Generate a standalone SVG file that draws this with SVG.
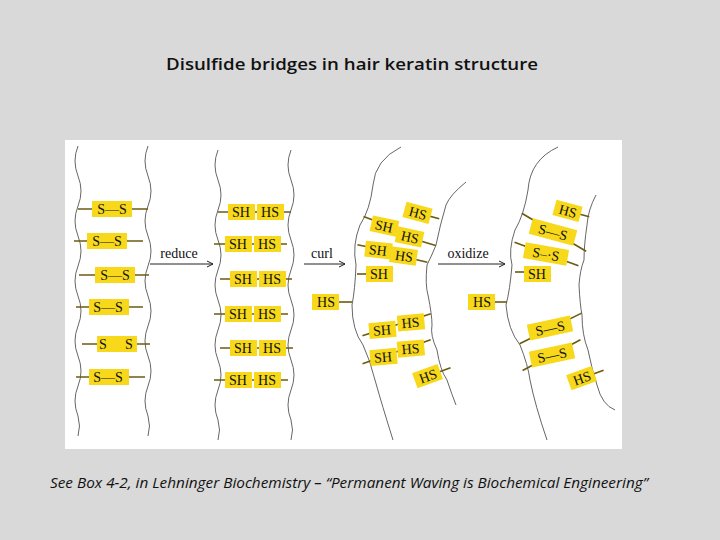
<svg xmlns="http://www.w3.org/2000/svg" width="720" height="540" viewBox="0 0 720 540">
<style>
.s{fill:none;stroke:#555;stroke-width:0.9}
.b{stroke:#6b5a10;stroke-width:1.6}
.y{fill:#f7d81a}
.t{font-family:"Liberation Serif",serif;font-size:14px;fill:#111;text-anchor:middle}
.a{stroke:#222;stroke-width:1;fill:none;marker-end:url(#m)}
</style>
<defs><marker id="m" markerWidth="8" markerHeight="8" refX="7" refY="4" orient="auto"><path d="M1,1 L7,4 L1,7" fill="none" stroke="#222"/></marker></defs>
<rect width="720" height="540" fill="#d9d9d9"/>
<text x="352" y="70" font-family="Open Sans,Liberation Sans,sans-serif" font-size="17" font-weight="600" text-anchor="middle" fill="#111" textLength="372" lengthAdjust="spacingAndGlyphs">Disulfide bridges in hair keratin structure</text>
<rect x="65" y="140" width="557" height="309" fill="#fff"/>
<g id="strands">
<path class="s" d="M78,146 q-6,15 0,30 q6,15 0,30 q-6,15 0,30 q6,15 0,30 q-6,15 0,30 q6,15 0,30 q-6,15 0,30 q6,15 0,30 q-6,15 0,30 q3,10 0,20"/>
<path class="s" d="M148,146 q-6,15 0,30 q6,15 0,30 q-6,15 0,30 q6,15 0,30 q-6,15 0,30 q6,15 0,30 q-6,15 0,30 q6,15 0,30 q-6,15 0,30 q3,10 0,20"/>
<path class="s" d="M218,150 q-6,15 0,30 q6,15 0,30 q-6,15 0,30 q6,15 0,30 q-6,15 0,30 q6,15 0,30 q-6,15 0,30 q6,15 0,30 q-6,15 0,30 q3,10 0,20"/>
<path class="s" d="M291,150 q-6,15 0,30 q6,15 0,30 q-6,15 0,30 q6,15 0,30 q-6,15 0,30 q6,15 0,30 q-6,15 0,30 q6,15 0,30 q-6,15 0,30 q3,10 0,20"/>
<path class="s" d="M401,147 Q375,160 373,185 Q370,210 360,225 Q352,245 356,265 Q355,290 352,305 Q352,330 363,345 Q370,360 375,380 Q382,405 393,440"/>
<path class="s" d="M466,182 Q450,195 446,205 Q440,225 436,245 Q432,255 427,265 Q425,285 428,295 Q432,315 432,325 Q430,335 437,350 Q440,370 447,380 Q452,395 456,405"/>
<path class="s" d="M558,147 Q530,160 528,190 Q524,215 515,230 Q508,250 512,265 Q510,290 506,305 Q508,330 520,345 Q528,365 530,380 Q535,405 547,440"/>
<path class="s" d="M596,195 Q588,210 587,225 Q584,245 584,260 Q580,270 579,285 Q580,305 582,315 Q582,335 588,350 Q592,370 597,385 Q602,405 615,410"/>
</g>
<g id="col1">
<g><line class="b" x1="78" y1="209" x2="148" y2="209"/><rect class="y" x="92" y="201" width="40" height="16"/><text class="t" x="112" y="214">S—S</text></g>
<g><line class="b" x1="74" y1="241" x2="143" y2="241"/><rect class="y" x="87" y="233" width="40" height="16"/><text class="t" x="107" y="246">S—S</text></g>
<g><line class="b" x1="79" y1="275" x2="149" y2="275"/><rect class="y" x="95" y="267" width="40" height="16"/><text class="t" x="115" y="280">S—S</text></g>
<g><line class="b" x1="76" y1="307" x2="143" y2="307"/><rect class="y" x="89" y="299" width="40" height="16"/><text class="t" x="108" y="312">S—S</text></g>
<g><line class="b" x1="82" y1="344" x2="150" y2="344"/><rect class="y" x="97" y="336" width="40" height="16"/><text class="t" x="103" y="349">S</text><text class="t" x="129" y="349">S</text></g>
<g><line class="b" x1="76" y1="377" x2="145" y2="377"/><rect class="y" x="89" y="369" width="40" height="16"/><text class="t" x="108" y="382">S—S</text></g>
</g>
<g id="col2">
<g><line class="b" x1="218" y1="212" x2="291" y2="212"/><rect class="y" x="228" y="204" width="27" height="16"/><rect class="y" x="257" y="204" width="27" height="16"/><text class="t" x="241" y="217">SH</text><text class="t" x="270" y="217">HS</text></g>
<g><line class="b" x1="214" y1="244" x2="287" y2="244"/><rect class="y" x="225" y="236" width="27" height="16"/><rect class="y" x="254" y="236" width="27" height="16"/><text class="t" x="238" y="249">SH</text><text class="t" x="267" y="249">HS</text></g>
<g><line class="b" x1="220" y1="279" x2="292" y2="279"/><rect class="y" x="230" y="271" width="27" height="16"/><rect class="y" x="259" y="271" width="27" height="16"/><text class="t" x="243" y="284">SH</text><text class="t" x="272" y="284">HS</text></g>
<g><line class="b" x1="214" y1="314" x2="288" y2="314"/><rect class="y" x="225" y="306" width="27" height="16"/><rect class="y" x="254" y="306" width="27" height="16"/><text class="t" x="238" y="319">SH</text><text class="t" x="267" y="319">HS</text></g>
<g><line class="b" x1="220" y1="348" x2="293" y2="348"/><rect class="y" x="230" y="340" width="27" height="16"/><rect class="y" x="259" y="340" width="27" height="16"/><text class="t" x="243" y="353">SH</text><text class="t" x="272" y="353">HS</text></g>
<g><line class="b" x1="214" y1="380" x2="288" y2="380"/><rect class="y" x="225" y="372" width="27" height="16"/><rect class="y" x="254" y="372" width="27" height="16"/><text class="t" x="238" y="385">SH</text><text class="t" x="267" y="385">HS</text></g>
</g>
<g id="col3">
<g transform="rotate(15 418 213)"><line class="b" x1="405" y1="213" x2="440" y2="213"/><rect class="y" x="404" y="205" width="27" height="16"/><text class="t" x="418" y="218">HS</text></g>
<g transform="rotate(12 384 226)"><line class="b" x1="362" y1="221" x2="396" y2="226"/><rect class="y" x="371" y="218" width="27" height="16"/><text class="t" x="384" y="231">SH</text></g>
<g transform="rotate(12 410 237)"><line class="b" x1="400" y1="237" x2="437" y2="240"/><rect class="y" x="396" y="229" width="27" height="16"/><text class="t" x="410" y="242">HS</text></g>
<g transform="rotate(6 378 250)"><line class="b" x1="357" y1="247" x2="388" y2="250"/><rect class="y" x="365" y="242" width="27" height="16"/><text class="t" x="378" y="255">SH</text></g>
<g transform="rotate(8 404 256)"><line class="b" x1="395" y1="256" x2="428" y2="259"/><rect class="y" x="390" y="248" width="27" height="16"/><text class="t" x="404" y="261">HS</text></g>
<g><line class="b" x1="357" y1="274" x2="370" y2="274"/><rect class="y" x="366" y="266" width="27" height="16"/><text class="t" x="379" y="279">SH</text></g>
<g><line class="b" x1="330" y1="302" x2="352" y2="302"/><rect class="y" x="312" y="294" width="27" height="16"/><text class="t" x="326" y="307">HS</text></g>
<g transform="rotate(-5 382 330)"><line class="b" x1="362" y1="334" x2="432" y2="318"/><rect class="y" x="369" y="322" width="27" height="16"/><rect class="y" x="398" y="317" width="27" height="16"/><text class="t" x="382" y="335">SH</text><text class="t" x="411" y="330">HS</text></g>
<g transform="rotate(-5 383 357)"><line class="b" x1="362" y1="362" x2="432" y2="344"/><rect class="y" x="370" y="349" width="27" height="16"/><rect class="y" x="398" y="343" width="27" height="16"/><text class="t" x="383" y="362">SH</text><text class="t" x="411" y="356">HS</text></g>
<g transform="rotate(-20 428 376)"><line class="b" x1="420" y1="376" x2="452" y2="376"/><rect class="y" x="414" y="368" width="27" height="16"/><text class="t" x="428" y="381">HS</text></g>
</g>
<g id="col4">
<g transform="rotate(15 568 211)"><line class="b" x1="560" y1="211" x2="590" y2="211"/><rect class="y" x="554" y="203" width="27" height="16"/><text class="t" x="568" y="216">HS</text></g>
<g transform="rotate(15 553 232)"><line class="b" x1="518" y1="222" x2="590" y2="242"/><rect class="y" x="530" y="224" width="46" height="16"/><text class="t" x="553" y="237">S—S</text></g>
<g transform="rotate(10 546 254)"><line class="b" x1="513" y1="248" x2="580" y2="260"/><rect class="y" x="524" y="246" width="44" height="16"/><text class="t" x="546" y="259">S–·S</text></g>
<g><line class="b" x1="515" y1="272" x2="528" y2="272"/><rect class="y" x="524" y="266" width="27" height="16"/><text class="t" x="537" y="279">SH</text></g>
<g><line class="b" x1="490" y1="302" x2="507" y2="302"/><rect class="y" x="468" y="294" width="27" height="16"/><text class="t" x="482" y="307">HS</text></g>
<g transform="rotate(-12 550 328)"><line class="b" x1="517" y1="337" x2="584" y2="320"/><rect class="y" x="528" y="320" width="44" height="16"/><text class="t" x="550" y="333">S—S</text></g>
<g transform="rotate(-12 552 355)"><line class="b" x1="520" y1="364" x2="583" y2="346"/><rect class="y" x="530" y="347" width="44" height="16"/><text class="t" x="552" y="360">S—S</text></g>
<g transform="rotate(-20 582 378)"><line class="b" x1="575" y1="378" x2="605" y2="378"/><rect class="y" x="568" y="370" width="27" height="16"/><text class="t" x="582" y="383">HS</text></g>
</g>
<g id="connectors">
<line class="a" x1="150" y1="264" x2="213" y2="264"/>
<line class="a" x1="304" y1="264" x2="345" y2="264"/>
<line class="a" x1="438" y1="264" x2="505" y2="264"/>
</g>
<text class="t" x="179" y="258">reduce</text>
<text class="t" x="322" y="258">curl</text>
<text class="t" x="468" y="258">oxidize</text>
<text x="50" y="488" font-family="Open Sans,Liberation Sans,sans-serif" font-size="14.5" font-style="italic" fill="#111" textLength="598" lengthAdjust="spacingAndGlyphs">See Box 4-2, in  Lehninger Biochemistry – “Permanent Waving is Biochemical Engineering”</text>
</svg>
